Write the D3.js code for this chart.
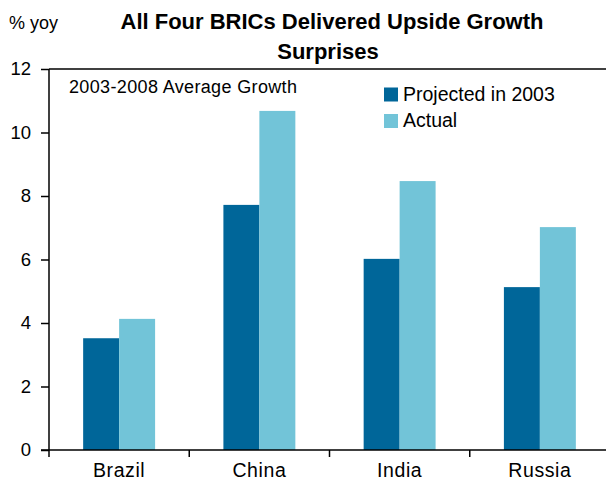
<!DOCTYPE html>
<html>
<head>
<meta charset="utf-8">
<script src="https://cdn.jsdelivr.net/npm/d3@7"></script>
<style>
  html, body { margin: 0; padding: 0; background: #fff; }
  svg { display: block; font-family: "Liberation Sans", Arial, sans-serif; }
</style>
</head>
<body>
<svg id="chart" width="606" height="482"></svg>
<script>
const categories = ["Brazil", "China", "India", "Russia"];
const seriesNames = ["Projected in 2003", "Actual"];
const projected = [3.52, 7.72, 6.02, 5.13];
const actual = [4.13, 10.68, 8.47, 7.02];
const yTicks = [0, 2, 4, 6, 8, 10, 12];
const titleLines = ["All Four BRICs Delivered Upside Growth", "Surprises"];
const unitLabel = "% yoy";
const note = "2003-2008 Average Growth";

(function () {
const colors = ["#006699", "#72C4D8"];
const svg = d3.select("#chart");

const mLeft = 49, mRight = 610, mTop = 69, mBottom = 450;
const pi = 0.487;
const x0 = d3.scaleBand().domain(categories).range([mLeft, mRight])
  .paddingInner(pi).paddingOuter(pi / 2);
const x1 = d3.scaleBand().domain(seriesNames).range([0, x0.bandwidth()]);
const y = d3.scaleLinear().domain([0, 12]).range([mBottom, mTop]);

const data = categories.map((c, i) => ({ cat: c, vals: [projected[i], actual[i]] }));

// bars
const g = svg.append("g");
g.selectAll("g.cat").data(data).join("g")
  .attr("transform", d => `translate(${x0(d.cat)},0)`)
  .selectAll("rect").data(d => d.vals.map((v, j) => ({ s: seriesNames[j], v, j })))
  .join("rect")
  .attr("x", d => x1(d.s))
  .attr("width", x1.bandwidth())
  .attr("y", d => y(d.v))
  .attr("height", d => y(0) - y(d.v))
  .attr("fill", d => colors[d.j]);

// y axis
const yAxis = d3.axisLeft(y).tickValues(yTicks).tickSize(8).tickPadding(10).tickFormat(d3.format("d"));
const ya = svg.append("g").attr("transform", `translate(${mLeft},0)`).call(yAxis);
ya.select(".domain").remove();
ya.selectAll(".tick line").attr("stroke", "#000").attr("stroke-width", 1.5);
ya.selectAll(".tick text").attr("font-size", 18.5).attr("fill", "#000")
  .attr("font-family", "Liberation Sans, Arial, sans-serif");
svg.append("line").attr("x1", mLeft).attr("x2", mLeft).attr("y1", y(12)).attr("y2", y(0) + 7)
  .attr("stroke", "#000").attr("stroke-width", 1.5);

// top frame line
svg.append("line").attr("x1", mLeft).attr("x2", 606).attr("y1", y(12)).attr("y2", y(12))
  .attr("stroke", "#000").attr("stroke-width", 1.5);

// x axis baseline
svg.append("line").attr("x1", mLeft - 8).attr("x2", 606).attr("y1", y(0)).attr("y2", y(0))
  .attr("stroke", "#000").attr("stroke-width", 1.5);

// x boundary ticks
const bounds = categories.slice(1).map(c => x0(c) + x0.bandwidth() / 2 - x0.step() / 2);
svg.selectAll("line.xt").data(bounds).join("line").attr("class", "xt")
  .attr("x1", d => d).attr("x2", d => d).attr("y1", y(0)).attr("y2", y(0) + 7)
  .attr("stroke", "#000").attr("stroke-width", 1.5);

// x labels
svg.selectAll("text.xl").data(categories).join("text").attr("class", "xl")
  .attr("x", d => x0(d) + x0.bandwidth() / 2)
  .attr("y", 477)
  .attr("text-anchor", "middle")
  .attr("font-size", 19.5)
  .attr("letter-spacing", 0.6)
  .attr("fill", "#000")
  .text(d => d);

// title
svg.selectAll("text.title").data(titleLines).join("text").attr("class", "title")
  .attr("x", (d, i) => i === 0 ? 332 : 328)
  .attr("y", (d, i) => 29 + i * 29.5)
  .attr("text-anchor", "middle")
  .attr("font-size", 22)
  .attr("font-weight", "bold")
  .attr("fill", "#000")
  .text(d => d);

// unit label
svg.append("text").attr("x", 9).attr("y", 29).attr("font-size", 18).attr("fill", "#000").text(unitLabel);

// note
svg.append("text").attr("x", 69).attr("y", 92.5).attr("font-size", 18)
  .attr("textLength", 228).attr("lengthAdjust", "spacing").attr("fill", "#000").text(note);

// legend
const lg = svg.append("g");
seriesNames.forEach((s, i) => {
  const yy = 87.5 + i * 26.5;
  lg.append("rect").attr("x", 384).attr("y", yy).attr("width", 14).attr("height", 14).attr("fill", colors[i]);
  lg.append("text").attr("x", 403).attr("y", yy + 13).attr("font-size", 19.5).attr("fill", "#000").text(s);
});
})();
</script>
</body>
</html>
